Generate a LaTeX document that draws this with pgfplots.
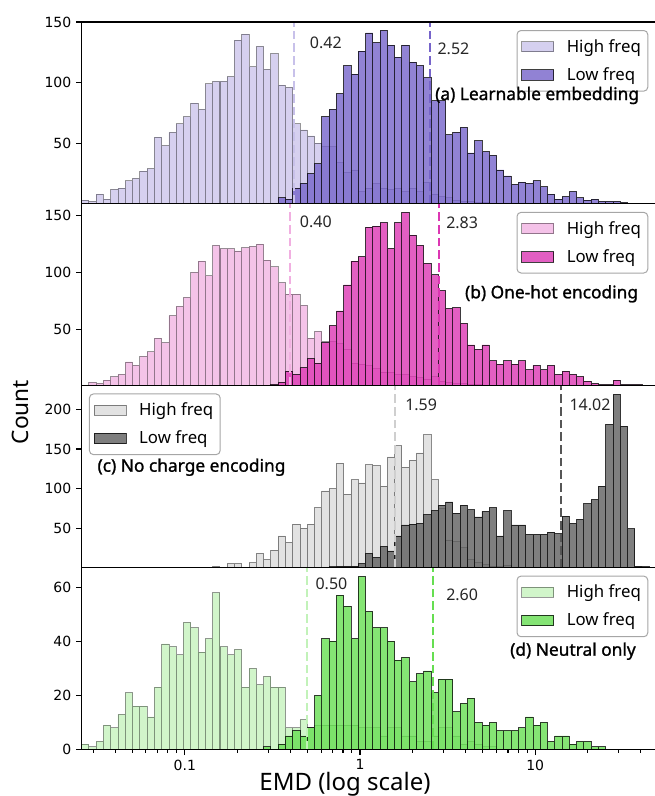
\documentclass[border=0pt]{standalone}
\usepackage{fontspec}
\setmainfont{Noto Sans}
\newfontfamily\tickfont{DejaVu Sans}
\newfontfamily\titlefont{Noto Sans}[FakeBold=1.2]
\usepackage{pgfplots}
\usepackage{pgfplotstable}
\pgfplotsset{compat=1.18}

\definecolor{purpbase}{RGB}{118,100,202}
\definecolor{pinkbase}{RGB}{220,55,179}
\definecolor{greybase}{RGB}{95,95,95}
\definecolor{greenbase}{RGB}{102,222,81}

% counts per log-spaced bin (k = bin index)
\pgfplotstableread{
k hi lo
0 3 0
1 2 0
2 8 0
3 4 0
4 12 0
5 13 0
6 19 0
7 21 0
8 27 0
9 29 0
10 55 0
11 48 0
12 59 0
13 66 0
14 72 0
15 83 0
16 78 0
17 99 0
18 101 0
19 101 0
20 105 0
21 135 0
22 140 0
23 113 0
24 130 0
25 111 0
26 124 0
27 98 5
28 96 4
29 66 13
30 61 17
31 56 25
32 50 33
33 47 72
34 47 78
35 34 91
36 26 114
37 28 107
38 10 126
39 13 141
40 17 133
41 13 143
42 12 131
43 13 121
44 10 131
45 13 117
46 10 114
47 18 104
48 8 85
49 6 85
50 5 57
51 3 59
52 2 63
53 2 42
54 1 52
55 1 43
56 0 40
57 0 28
58 0 23
59 0 16
60 0 18
61 0 17
62 0 19
63 0 14
64 0 8
65 0 4
66 0 6
67 0 10
68 0 5
69 0 3
70 0 4
71 0 2
72 0 2
73 0 2
74 0 1
75 0 0
76 0 0
77 0 0
78 0 0
}\panelA

\pgfplotstableread{
k hi lo
0 0 0
1 3 0
2 2 0
3 5 0
4 8 0
5 10 0
6 21 0
7 18 0
8 26 0
9 30 0
10 42 0
11 38 0
12 62 0
13 70 0
14 78 0
15 100 0
16 110 0
17 97 0
18 124 0
19 121 0
20 121 0
21 119 0
22 122 0
23 123 0
24 125 0
25 111 0
26 105 1
27 91 3
28 81 13
29 81 10
30 71 16
31 42 24
32 48 20
33 39 38
34 39 53
35 37 66
36 32 89
37 20 110
38 19 114
39 18 140
40 15 141
41 12 144
42 12 121
43 10 144
44 10 153
45 8 133
46 7 124
47 6 108
48 8 98
49 4 84
50 3 68
51 2 69
52 2 55
53 1 36
54 1 32
55 0 36
56 0 22
57 0 19
58 0 22
59 0 19
60 0 22
61 0 14
62 0 18
63 0 14
64 0 18
65 0 10
66 0 13
67 0 10
68 0 8
69 0 4
70 0 2
71 0 1
72 0 1
73 0 5
74 0 1
75 0 1
76 0 1
77 0 0
78 0 0
}\panelB

\pgfplotstableread{
k hi lo
0 0 0
1 0 0
2 0 0
3 0 0
4 0 0
5 0 0
6 0 0
7 0 0
8 0 0
9 0 0
10 0 0
11 0 0
12 0 0
13 0 0
14 0 0
15 0 0
16 0 0
17 0 0
18 2 0
19 0 0
20 5 0
21 5 0
22 0 0
23 6 0
24 18 0
25 10 0
26 22 0
27 40 0
28 32 0
29 55 0
30 50 0
31 55 0
32 76 0
33 97 0
34 100 1
35 132 2
36 93 2
37 111 2
38 107 5
39 130 18
40 129 13
41 103 27
42 140 21
43 154 40
44 127 54
45 136 55
46 145 56
47 168 67
48 111 72
49 75 79
50 35 83
51 33 69
52 25 79
53 10 73
54 6 64
55 4 71
56 2 76
57 1 40
58 3 72
59 0 54
60 0 54
61 0 42
62 0 42
63 0 42
64 0 45
65 0 43
66 0 65
67 0 56
68 0 61
69 0 81
70 0 86
71 0 103
72 0 181
73 0 219
74 0 179
75 0 49
76 0 2
77 0 1
78 0 0
}\panelC

\pgfplotstableread{
k hi lo
0 2 0
1 1 0
2 3 0
3 9 0
4 8 0
5 13 0
6 21 0
7 16 0
8 16 0
9 12 0
10 23 0
11 39 0
12 38 0
13 35 0
14 47 0
15 45 0
16 36 0
17 41 0
18 58 0
19 38 0
20 35 0
21 37 0
22 23 0
23 30 0
24 24 0
25 27 1
26 23 0
27 23 2
28 8 5
29 8 7
30 11 5
31 8 8
32 9 20
33 9 41
34 9 40
35 9 57
36 9 53
37 9 41
38 8 64
39 8 51
40 8 45
41 5 45
42 8 40
43 8 33
44 5 34
45 5 25
46 3 28
47 3 29
48 5 21
49 8 26
50 8 26
51 5 14
52 2 17
53 3 19
54 2 10
55 1 9
56 1 10
57 0 7
58 0 7
59 0 7
60 0 8
61 0 12
62 0 9
63 0 10
64 0 3
65 0 5
66 0 5
67 0 2
68 0 3
69 0 3
70 0 1
71 0 1
72 0 0
73 0 0
74 0 0
75 0 0
76 0 0
77 0 0
78 0 0
}\panelD

% bin centres: equal steps of 0.041553 in log10(EMD), first edge at 10^-1.5890
\def\bincentre{10^(-1.5890+0.041553*(\thisrow{k}+0.5))}

\begin{document}
\begin{tikzpicture}
\useasboundingbox (0pt,0pt) rectangle (491.25pt,-597pt);

% (a) learnable embedding
\begin{axis}[
    at={(61.2pt,-16.5pt)}, anchor=north west,
    scale only axis, width=431.3pt, height=136.4pt,
    xmode=log, xmin=0.025763, xmax=49.39, ymin=0, ymax=150,
    ytick={50,100,150}, xtick=\empty, xminorticks=false,
    axis on top, axis line style={line width=0.9pt},
    tick style={black, line width=0.8pt}, tick align=outside,
    major tick length=4.2pt, minor tick length=2.6pt,
    ytick pos=left, xtick pos=bottom,
    tick label style={font=\tickfont\fontsize{10.5}{12}\selectfont},
    /pgf/number format/assume math mode=true,
    legend cell align=left,
    legend image post style={sharp corners, xscale=1.406, yscale=1.36},
    legend style={at={(1,1)}, anchor=north east, xshift=-6.3pt, yshift=-6pt,
      draw=black!35, line width=0.75pt, rounded corners=3pt,
      fill=white, fill opacity=0.8, text opacity=1,
      inner xsep=3.2pt, inner ysep=4.6pt, row sep=6pt, column sep=7.5pt,
      font=\fontsize{12.6}{14}\selectfont},
  ]
  \addplot[ybar, bar width=5.46pt, bar shift=0pt, area legend, fill=purpbase, fill opacity=0.3, draw=black, draw opacity=0.4, line width=0.6pt]
    table[x expr=\bincentre, y=hi] {\panelA};
  \addlegendentry{High freq}
  \addplot[ybar, bar width=5.46pt, bar shift=0pt, area legend, fill=purpbase, fill opacity=0.8, draw=black, draw opacity=0.75, line width=0.6pt]
    table[x expr=\bincentre, y=lo] {\panelA};
  \addlegendentry{Low freq}
  \addplot[forget plot, dash pattern=on 6.5pt off 3pt, line width=1.7pt, draw=purpbase!40] coordinates {(0.42,0) (0.42,150)};
  \addplot[forget plot, dash pattern=on 6.5pt off 3pt, line width=1.7pt, draw=purpbase] coordinates {(2.52,0) (2.52,150)};
\end{axis}

% (b) one-hot encoding
\begin{axis}[
    at={(61.2pt,-152.9pt)}, anchor=north west,
    scale only axis, width=431.3pt, height=136.4pt,
    xmode=log, xmin=0.025763, xmax=49.39, ymin=0, ymax=160.6,
    ytick={50,100,150}, xtick=\empty, xminorticks=false,
    axis on top, axis line style={line width=0.9pt},
    tick style={black, line width=0.8pt}, tick align=outside,
    major tick length=4.2pt, minor tick length=2.6pt,
    ytick pos=left, xtick pos=bottom,
    tick label style={font=\tickfont\fontsize{10.5}{12}\selectfont},
    /pgf/number format/assume math mode=true,
    legend cell align=left,
    legend image post style={sharp corners, xscale=1.406, yscale=1.36},
    legend style={at={(1,1)}, anchor=north east, xshift=-6.3pt, yshift=-6pt,
      draw=black!35, line width=0.75pt, rounded corners=3pt,
      fill=white, fill opacity=0.8, text opacity=1,
      inner xsep=3.2pt, inner ysep=4.6pt, row sep=6pt, column sep=7.5pt,
      font=\fontsize{12.6}{14}\selectfont},
  ]
  \addplot[ybar, bar width=5.46pt, bar shift=0pt, area legend, fill=pinkbase, fill opacity=0.3, draw=black, draw opacity=0.4, line width=0.6pt]
    table[x expr=\bincentre, y=hi] {\panelB};
  \addlegendentry{High freq}
  \addplot[ybar, bar width=5.46pt, bar shift=0pt, area legend, fill=pinkbase, fill opacity=0.8, draw=black, draw opacity=0.75, line width=0.6pt]
    table[x expr=\bincentre, y=lo] {\panelB};
  \addlegendentry{Low freq}
  \addplot[forget plot, dash pattern=on 6.5pt off 3pt, line width=1.7pt, draw=pinkbase!40] coordinates {(0.40,0) (0.40,160.6)};
  \addplot[forget plot, dash pattern=on 6.5pt off 3pt, line width=1.7pt, draw=pinkbase] coordinates {(2.83,0) (2.83,160.6)};
\end{axis}

% (c) no charge encoding
\begin{axis}[
    at={(61.2pt,-289.3pt)}, anchor=north west,
    scale only axis, width=431.3pt, height=136.4pt,
    xmode=log, xmin=0.025763, xmax=49.39, ymin=0, ymax=230,
    ytick={50,100,150,200}, xtick=\empty, xminorticks=false,
    axis on top, axis line style={line width=0.9pt},
    tick style={black, line width=0.8pt}, tick align=outside,
    major tick length=4.2pt, minor tick length=2.6pt,
    ytick pos=left, xtick pos=bottom,
    tick label style={font=\tickfont\fontsize{10.5}{12}\selectfont},
    /pgf/number format/assume math mode=true,
    legend cell align=left,
    legend image post style={sharp corners, xscale=1.406, yscale=1.36},
    legend style={at={(0,1)}, anchor=north west, xshift=5.5pt, yshift=-5.8pt,
      draw=black!35, line width=0.75pt, rounded corners=3pt,
      fill=white, fill opacity=0.8, text opacity=1,
      inner xsep=3.2pt, inner ysep=4.6pt, row sep=6pt, column sep=7.5pt,
      font=\fontsize{12.6}{14}\selectfont},
  ]
  \addplot[ybar, bar width=5.46pt, bar shift=0pt, area legend, fill=greybase, fill opacity=0.18, draw=black, draw opacity=0.45, line width=0.6pt]
    table[x expr=\bincentre, y=hi] {\panelC};
  \addlegendentry{High freq}
  \addplot[ybar, bar width=5.46pt, bar shift=0pt, area legend, fill=greybase, fill opacity=0.8, draw=black, draw opacity=0.75, line width=0.6pt]
    table[x expr=\bincentre, y=lo] {\panelC};
  \addlegendentry{Low freq}
  \addplot[forget plot, dash pattern=on 6.5pt off 3pt, line width=1.7pt, draw=greybase!30] coordinates {(1.59,0) (1.59,230)};
  \addplot[forget plot, dash pattern=on 6.5pt off 3pt, line width=1.7pt, draw=greybase!90!black] coordinates {(14.02,0) (14.02,230)};
\end{axis}

% (d) neutral only
\begin{axis}[
    at={(61.2pt,-425.7pt)}, anchor=north west,
    scale only axis, width=431.3pt, height=136.4pt,
    xmode=log, xmin=0.025763, xmax=49.39, ymin=0, ymax=67.2,
    ytick={0,20,40,60},
    xtick={0.1,1,10}, xticklabels={0.1,1,10},
    minor xtick={0.03,0.04,0.05,0.06,0.07,0.08,0.09,0.2,0.3,0.4,0.5,0.6,0.7,0.8,0.9,2,3,4,5,6,7,8,9,20,30,40},
    axis on top, axis line style={line width=0.9pt},
    tick style={black, line width=0.8pt}, tick align=outside,
    major tick length=4.2pt, minor tick length=2.6pt,
    ytick pos=left, xtick pos=bottom,
    tick label style={font=\tickfont\fontsize{10.5}{12}\selectfont},
    /pgf/number format/assume math mode=true,
    legend cell align=left,
    legend image post style={sharp corners, xscale=1.406, yscale=1.36},
    legend style={at={(1,1)}, anchor=north east, xshift=-6.3pt, yshift=-6pt,
      draw=black!35, line width=0.75pt, rounded corners=3pt,
      fill=white, fill opacity=0.8, text opacity=1,
      inner xsep=3.2pt, inner ysep=4.6pt, row sep=6pt, column sep=7.5pt,
      font=\fontsize{12.6}{14}\selectfont},
  ]
  \addplot[ybar, bar width=5.46pt, bar shift=0pt, area legend, fill=greenbase, fill opacity=0.3, draw=black, draw opacity=0.4, line width=0.6pt]
    table[x expr=\bincentre, y=hi] {\panelD};
  \addlegendentry{High freq}
  \addplot[ybar, bar width=5.46pt, bar shift=0pt, area legend, fill=greenbase, fill opacity=0.8, draw=black, draw opacity=0.75, line width=0.6pt]
    table[x expr=\bincentre, y=lo] {\panelD};
  \addlegendentry{Low freq}
  \addplot[forget plot, dash pattern=on 6.5pt off 3pt, line width=1.7pt, draw=greenbase!40] coordinates {(0.50,0) (0.50,67.2)};
  \addplot[forget plot, dash pattern=on 6.5pt off 3pt, line width=1.7pt, draw=greenbase] coordinates {(2.60,0) (2.60,67.2)};
\end{axis}

\begin{scope}[x=0.75pt, y=-0.75pt]
  \begin{scope}[font=\fontsize{12}{14}\selectfont, text=black!85, inner sep=0pt]
    \node[anchor=base west] at (309.7,48.3) {0.42};
    \node[anchor=base west] at (437.3,54) {2.52};
    \node[anchor=base west] at (299.7,227.3) {0.40};
    \node[anchor=base west] at (446,228.3) {2.83};
    \node[anchor=base west] at (405,410.7) {1.59};
    \node[anchor=base west] at (569.3,410.7) {14.02};
    \node[anchor=base west] at (315.3,589.3) {0.50};
    \node[anchor=base west] at (446,600) {2.60};
  \end{scope}
  \begin{scope}[font=\titlefont\fontsize{13}{15}\selectfont, inner sep=0pt]
    \node[anchor=base east] at (639.3,100) {(a) Learnable embedding};
    \node[anchor=base east] at (638.3,298.3) {(b) One-hot encoding};
    \node[anchor=base west] at (97.3,471.7) {(c) No charge encoding};
    \node[anchor=base east] at (636,655.7) {(d) Neutral only};
  \end{scope}
  \node[rotate=90, inner sep=0pt, font=\fontsize{17}{20}\selectfont] at (20.5,412) {Count};
  \node[anchor=base, inner sep=0pt, font=\fontsize{18}{21}\selectfont] at (345,790) {EMD (log scale)};
\end{scope}
\end{tikzpicture}
\end{document}
